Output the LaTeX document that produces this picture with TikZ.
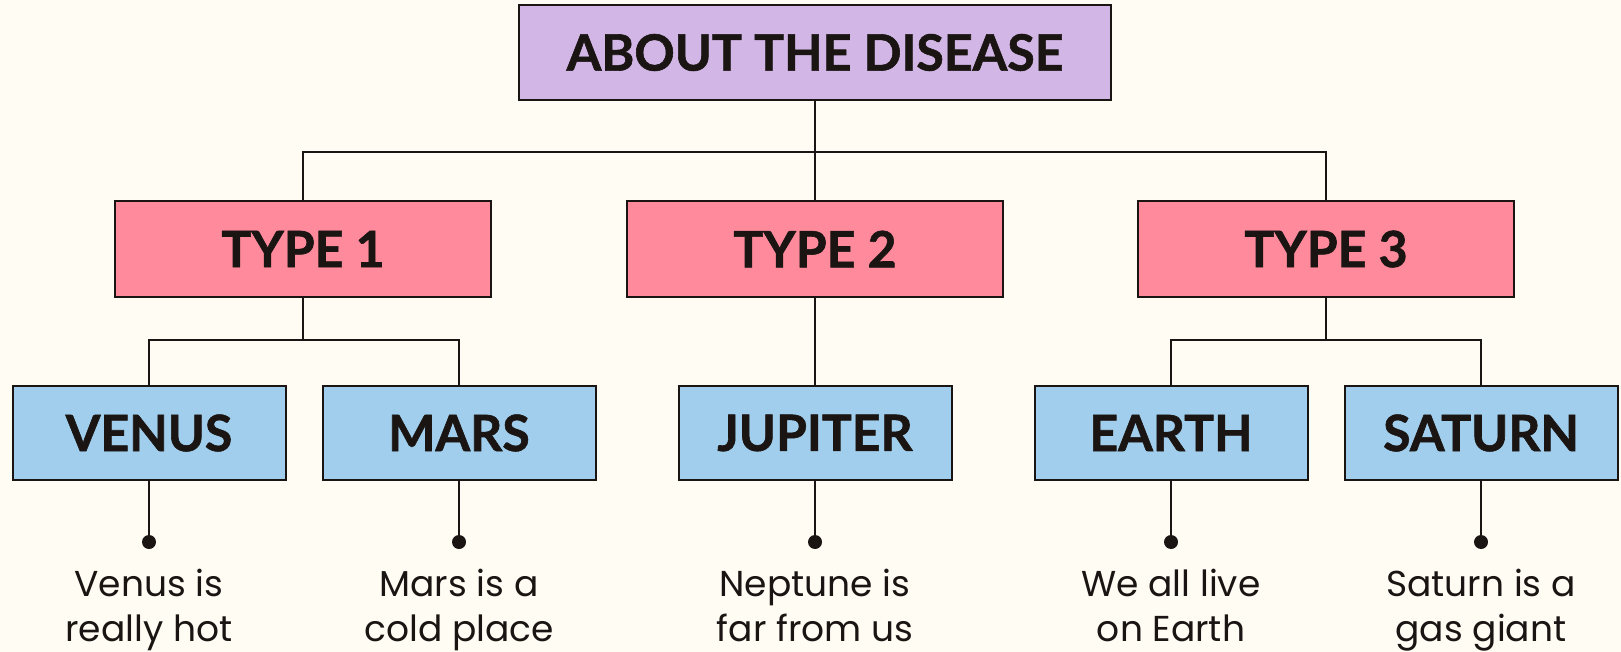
\documentclass[tikz,border=0pt]{standalone}
\usepackage{fontspec}
\setmainfont{Poppins}
\newfontfamily\headfont{Lato}[BoldFeatures={FakeBold=1.2}]
\definecolor{bgc}{HTML}{FFFCF4}
\definecolor{purp}{HTML}{D2B7E6}
\definecolor{pinkc}{HTML}{FF8A9C}
\definecolor{bluec}{HTML}{A1CEEC}
\definecolor{ink}{HTML}{1A1513}
\tikzset{
  box/.style={draw=ink, line width=2pt, inner sep=0pt, text=ink,
    font=\headfont\bfseries\fontsize{50}{60}\selectfont},
  topbox/.style={box, fill=purp, minimum width=592pt, minimum height=95pt},
  typebox/.style={box, fill=pinkc, minimum width=376pt, minimum height=96pt},
  planetbox/.style={box, fill=bluec, minimum width=273pt, minimum height=94pt},
  conn/.style={draw=ink, line width=1.5pt},
  stem/.style={draw=ink, line width=2.5pt},
  dotc/.style={circle, fill=ink, inner sep=0pt, minimum size=14pt},
  desc/.style={anchor=base, align=center, text=ink, inner sep=0pt,
    font=\fontsize{36}{45}\selectfont}
}
\begin{document}
\begin{tikzpicture}[x=1pt,y=-1pt]
\fill[bgc] (0,0) rectangle (1621,652);
\useasboundingbox (0,0) rectangle (1621,652);
\coordinate (h1) at (0,152);
\coordinate (h2) at (0,340);
\node[topbox] (top) at (815,52.5) {ABOUT THE DISEASE};
\node[typebox] (t1) at (303,249) {TYPE 1};
\node[typebox] (t2) at (815,249) {TYPE 2};
\node[typebox] (t3) at (1326,249) {TYPE 3};
\node[planetbox] (p1) at (149,433) {VENUS};
\node[planetbox] (p2) at (459,433) {MARS};
\node[planetbox] (p3) at (815,433) {JUPITER};
\node[planetbox] (p4) at (1171,433) {EARTH};
\node[planetbox] (p5) at (1481,433) {SATURN};
\draw[conn] (top.south) -- (t2.north);
\draw[conn] (t1.north) |- (h1 -| t3.north) -- (t3.north);
\draw[conn] (t1.south) -- (t1.south |- h2);
\draw[conn] (p1.north) |- (h2 -| p2.north) -- (p2.north);
\draw[conn] (t2.south) -- (p3.north);
\draw[conn] (t3.south) -- (t3.south |- h2);
\draw[conn] (p4.north) |- (h2 -| p5.north) -- (p5.north);
\foreach \i/\x in {1/149,2/459,3/815,4/1171,5/1481}{
  \node[dotc] (d\i) at (\x,542) {};
  \draw[stem] (p\i.south) -- (d\i.center);
}
\node[desc] (s1) at (149,641.7) {Venus is\\really hot};
\node[desc] (s2) at (459,641.7) {Mars is a\\cold place};
\node[desc] (s3) at (815,641.7) {Neptune is\\far from us};
\node[desc] (s4) at (1171,641.7) {We all live\\on Earth};
\node[desc] (s5) at (1481,641.7) {Saturn is a\\gas giant};
\end{tikzpicture}
\end{document}
